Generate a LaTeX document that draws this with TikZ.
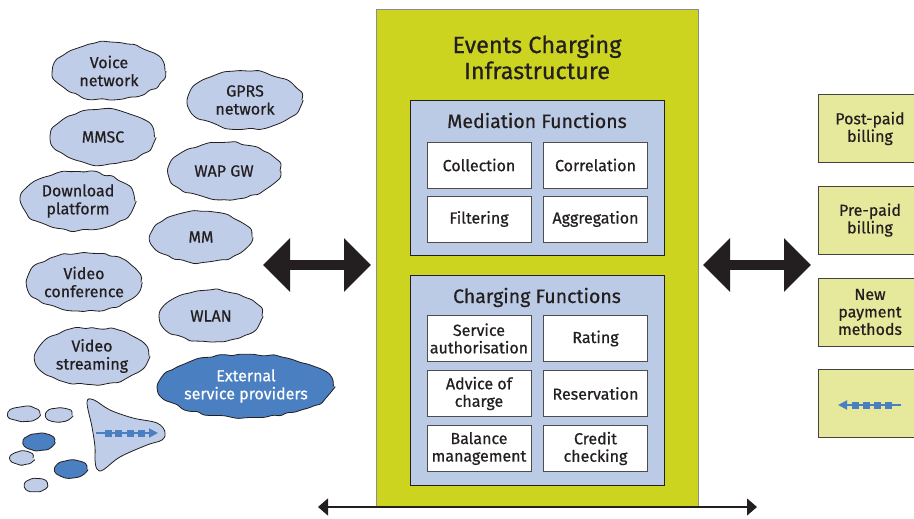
\documentclass[tikz,border=0pt]{standalone}
\usepackage{fontspec}
\setmainfont{Fira Sans}[FakeBold=0.6]
\usetikzlibrary{arrows.meta,shapes.geometric,decorations.pathmorphing}
\definecolor{cloudblue}{HTML}{BFCDE8}
\definecolor{darkblue}{HTML}{4A7FC1}
\definecolor{limegreen}{HTML}{CDD41F}
\definecolor{panelblue}{HTML}{BCCBE5}
\definecolor{paleyellow}{HTML}{E6E89B}
\definecolor{ink}{HTML}{231F20}
\newcommand{\cloudfnt}{\fontsize{16}{18}\selectfont}
\newcommand{\boxfnt}{\fontsize{16}{17.5}\selectfont}
\begin{document}
\begin{tikzpicture}[x=1pt,y=-1pt,
  cloudnode/.style={ellipse, draw=ink, line width=0.8pt, fill=cloudblue,
    inner sep=0pt, align=center, font=\cloudfnt, text=ink,
    decorate, decoration={random steps, segment length=7pt, amplitude=1.5pt},
    rounded corners=2.5pt},
  darkcloud/.style={cloudnode, fill=darkblue, text=white},
  smallcloud/.style={decoration={random steps, segment length=4pt, amplitude=0.7pt}, rounded corners=1.5pt},
  funcbox/.style={rectangle, draw=ink!80, line width=0.8pt, fill=white,
    minimum width=104pt, minimum height=46pt, inner sep=0pt, align=center,
    font=\boxfnt, text=ink},
  panel/.style={rectangle, draw=ink, line width=0.8pt, fill=panelblue,
    inner sep=0pt},
  billbox/.style={rectangle, draw=ink!85, line width=0.8pt, fill=paleyellow,
    minimum width=104pt, minimum height=68pt, inner sep=0pt, align=center,
    font=\boxfnt, text=ink},
  bigarrow/.style={line width=10pt, draw=ink,
    {Triangle[width=52pt,length=27pt]}-{Triangle[width=52pt,length=27pt]}},
  thinarrow/.style={line width=1.3pt, draw=ink,
    {Triangle[width=17pt,length=10pt]}-{Triangle[width=17pt,length=10pt]}},
  bluearrow/.style={line width=1.8pt, draw=darkblue, -{Triangle[width=9pt,length=9pt]}},
  sq/.style={fill=darkblue}
]
\useasboundingbox (0,0) rectangle (914,519);
\clip (0,0) rectangle (914,519);
\pgfmathsetseed{7}

% main infrastructure box
\node[rectangle, fill=limegreen, draw=black!45, line width=0.6pt, inner sep=0pt,
  minimum width=322pt, minimum height=498pt, anchor=north west] (eci) at (376,9) {};
\node[font=\fontsize{23.5}{26}\selectfont, text=ink, align=center] (ecititle) at (537,57)
  {Events Charging\\Infrastructure};

% mediation panel
\node[panel, minimum width=254pt, minimum height=155pt] (med) at (537,177.5) {};
\node[font=\fontsize{19.5}{22}\selectfont, text=ink, anchor=base] (medtitle) at (537,128) {Mediation Functions};
\node[funcbox] (coll) at (479,165) {Collection};
\node[funcbox] (corr) at (595.5,165) {Correlation};
\node[funcbox] (filt) at (479,219) {Filtering};
\node[funcbox] (aggr) at (595.5,219) {Aggregation};

% charging panel
\node[panel, minimum width=254pt, minimum height=210pt] (chg) at (537,380) {};
\node[font=\fontsize{19.5}{22}\selectfont, text=ink, anchor=base] (chgtitle) at (537,303) {Charging Functions};
\node[funcbox] (serv) at (479,338.5) {Service\\authorisation};
\node[funcbox] (rate) at (595.5,338.5) {Rating};
\node[funcbox] (advc) at (479,393.5) {Advice of\\charge};
\node[funcbox] (resv) at (595.5,393.5) {Reservation};
\node[funcbox] (bal) at (479,448.5) {Balance\\management};
\node[funcbox] (cred) at (595.5,448.5) {Credit\\checking};

% bottom line
\coordinate (bl) at (318,507);
\coordinate (br) at (757,507);
\draw[thinarrow] (bl) -- (br);

% big double arrows
\coordinate (la1) at (263,265);
\coordinate (la2) at (371,265);
\draw[bigarrow] (la1) -- (la2);
\coordinate (ra1) at (703,265);
\coordinate (ra2) at (811,265);
\draw[bigarrow] (ra1) -- (ra2);

% billing boxes
\node[billbox] (post) at (870,128.5) {Post-paid\\billing};
\node[billbox] (pre) at (870,220) {Pre-paid\\billing};
\node[billbox] (newpay) at (870,312) {New\\payment\\methods};
\node[billbox] (future) at (870,403.5) {};
\coordinate (fa1) at (901,405);
\coordinate (fa2) at (838,405);
\draw[bluearrow] (fa1) -- (fa2);
\foreach \xx in {855,866,877,888} \fill[sq] (\xx-3.5,401.5) rectangle (\xx+3.5,408.5);

% clouds
\node[cloudnode, minimum width=112pt, minimum height=58pt] (voice) at (109,71) {Voice\\network};
\node[cloudnode, minimum width=114pt, minimum height=58pt] (gprs) at (245,100) {GPRS\\network};
\node[cloudnode, minimum width=103pt, minimum height=56pt] (mmsc) at (103,137) {MMSC};
\node[cloudnode, minimum width=112pt, minimum height=57pt] (wap) at (224,171) {WAP GW};
\node[cloudnode, minimum width=114pt, minimum height=59pt] (dl) at (78,201) {Download\\platform};
\node[cloudnode, minimum width=102pt, minimum height=51pt] (mm) at (201,237) {MM};
\node[cloudnode, minimum width=114pt, minimum height=59pt] (vconf) at (84,282) {Video\\conference};
\node[cloudnode, minimum width=102pt, minimum height=52pt] (wlan) at (211,316) {WLAN};
\node[cloudnode, minimum width=114pt, minimum height=57pt] (vstream) at (92,356) {Video\\streaming};
\node[darkcloud, minimum width=144pt, minimum height=63pt] (ext) at (246,386) {External\\service providers};

% small clouds
\node[cloudnode, smallcloud, minimum width=32pt, minimum height=15pt] (s1) at (24,414) {};
\node[cloudnode, smallcloud, minimum width=26pt, minimum height=14pt] (s2) at (59,415) {};
\node[darkcloud, smallcloud, minimum width=31pt, minimum height=17pt] (s3) at (39,442) {};
\node[cloudnode, smallcloud, minimum width=22pt, minimum height=13pt] (s4) at (22,458) {};
\node[darkcloud, smallcloud, minimum width=32pt, minimum height=18pt] (s5) at (71,469) {};
\node[cloudnode, smallcloud, minimum width=23pt, minimum height=13pt] (s6) at (36,485) {};

% large blob with arrow
\draw[fill=cloudblue, draw=ink, line width=0.8pt]
  plot[smooth cycle, tension=0.6] coordinates {(87,402) (94,400) (110,410) (133,418) (157,423) (165,432) (162,440) (147,445) (120,457) (103,470) (97,469) (95,460) (95,447) (92,427)};
\coordinate (ba1) at (96,433);
\coordinate (ba2) at (158,433);
\draw[bluearrow] (ba1) -- (ba2);
\foreach \xx in {108.5,118.5,130,141.5} \fill[sq] (\xx-3.5,429.5) rectangle (\xx+3.5,436.5);
\end{tikzpicture}
\end{document}
